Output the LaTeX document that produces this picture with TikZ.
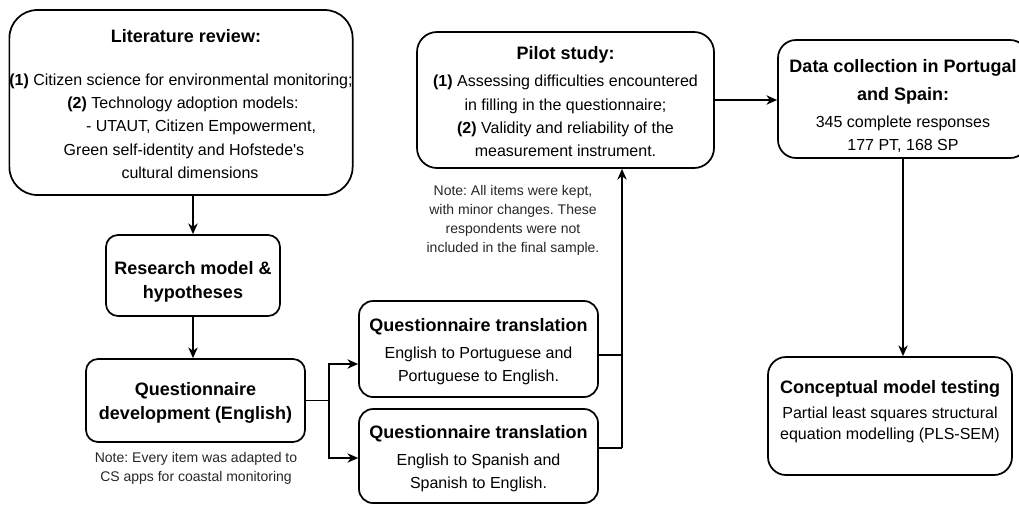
\documentclass[tikz,border=0pt]{standalone}
\usepackage{fontspec}
\setmainfont{Liberation Sans}
\usetikzlibrary{arrows.meta}
\newcommand{\hd}[1]{{\bfseries\fontsize{13.5}{17.5}\selectfont #1}}
\frenchspacing

\begin{document}
\begin{tikzpicture}[x=0.75pt,y=-0.75pt,
  box/.style={draw, line width=1.3pt, fill=white, align=center, inner sep=0pt, font=\fontsize{12}{17.5}\selectfont},
  note/.style={align=center, inner sep=0pt, font=\fontsize{10.5}{14.25}\selectfont, text=black!85},
  link/.style={line width=1.3pt},
  arr/.style={link, -{Stealth[length=8pt,width=7pt,inset=2.5pt]}}]
\useasboundingbox (0,0) rectangle (1019,504);
\node[box, rounded corners=21pt, minimum width=256.5pt, minimum height=138.75pt] (lit) at (181.0,102.5) {\rule{0pt}{12.05pt}\hspace*{7.5pt}\hd{Literature review:}\\[14.75pt]
\textbf{(1)} Citizen science for environmental monitoring;\\
\hspace*{3pt}\textbf{(2)} Technology adoption models:\\
\hspace*{30pt}- UTAUT, Citizen Empowerment,\\
\hspace*{4.5pt}Green self-identity and Hofstede\textquotesingle s\\
\hspace*{13.5pt}cultural dimensions};
\node[box, rounded corners=9pt, minimum width=130.5pt, minimum height=60.75pt] (res) at (193.0,275.5) {\rule{0pt}{18.8pt}\hd{Research model \&}\\[0.5pt]\hd{hypotheses}};
\node[box, rounded corners=9pt, minimum width=164.25pt, minimum height=62.25pt] (dev) at (195.5,400.5) {\rule{0pt}{12.8pt}\hd{Questionnaire}\\[0.5pt]\hd{development (English)}};
\node[note] (dnote) at (196.0,468.5) {Note: Every item was adapted to\\CS apps for coastal monitoring};
\node[box, rounded corners=10.5pt, minimum width=179.25pt, minimum height=72pt] (trpt) at (478.5,349.0) {\rule{0pt}{13.55pt}\hd{Questionnaire translation}\\[2.75pt]
English to Portuguese and\\
Portuguese to English.};
\node[box, rounded corners=10.5pt, minimum width=179.25pt, minimum height=70.5pt] (tres) at (478.5,456.0) {\rule{0pt}{13.55pt}\hd{Questionnaire translation}\\[2.75pt]
English to Spanish and\\
Spanish to English.};
\node[box, rounded corners=15pt, minimum width=222.75pt, minimum height=102pt] (pilot) at (565.5,100.0) {\rule{0pt}{12.8pt}\hd{Pilot study:}\\[2.75pt]
\textbf{(1)} Assessing difficulties encountered\\
in filling in the questionnaire;\\
\textbf{(2)} Validity and reliability of the\\
measurement instrument.};
\node[note] (pnote) at (513.0,220.5) {Note: All items were kept,\\with minor changes. These\\respondents were not\\included in the final sample.};
\node[box, rounded corners=13.5pt, minimum width=187.5pt, minimum height=88.5pt] (data) at (903.0,99.0) {\rule{0pt}{20.3pt}\hd{Data collection in Portugal}\\[3.5pt]
\hd{and Spain:}\\[2.75pt]
345 complete responses\\
177 PT, 168 SP};
\node[box, rounded corners=13.5pt, minimum width=183pt, minimum height=88.5pt] (conc) at (890.0,416.0) {\hd{Conceptual model testing}\\[1.25pt]
Partial least squares structural\\[-1.75pt]
equation modelling (PLS-SEM)\rule[-8.5pt]{0pt}{0pt}};
\coordinate (split) at (329.0,400.5);
\coordinate (join) at (622.0,448.0);
\draw[arr] (res.north |- lit.south) -- (res.north);
\draw[arr] (res.south) -- (res.south |- dev.north);
\draw[link] (dev.east) -- (split);
\draw[arr] (split) |- (trpt.west |- 0,364);
\draw[arr] (split) |- (tres.west |- 0,458);
\draw[link] (trpt.east |- 0,355) -- (join |- 0,355);
\draw[link] (tres.east |- join) -- (join);
\draw[arr] (join) -- (join |- pilot.south);
\draw[arr] (pilot.east) -- (pilot.east -| data.west);
\draw[arr] (data.south) -- (data.south |- conc.north);
\end{tikzpicture}
\end{document}
